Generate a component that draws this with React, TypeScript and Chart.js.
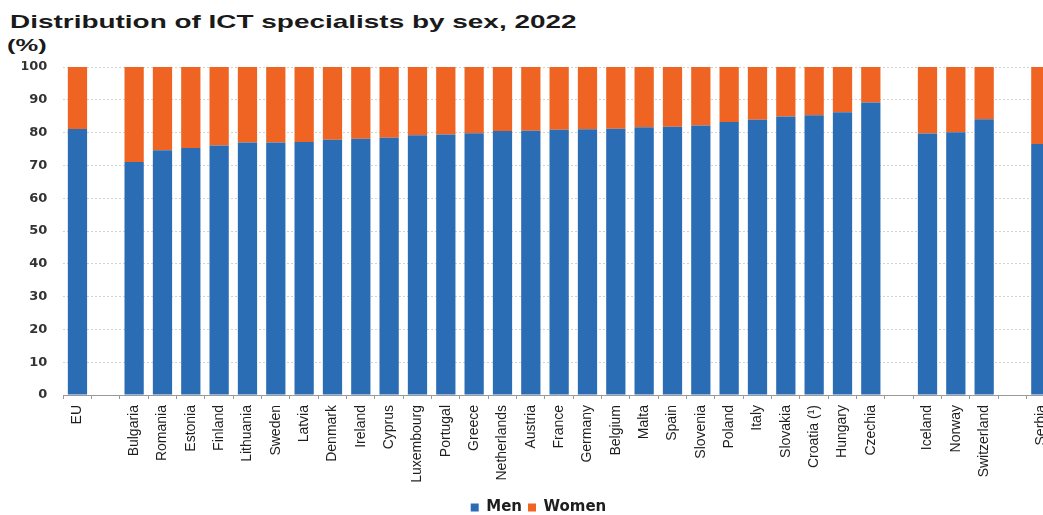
import React, { useEffect, useRef } from "react";
import { Chart, registerables } from "chart.js";

Chart.register(...registerables);

const categories = [
  "EU", "",
  "Bulgaria", "Romania", "Estonia", "Finland", "Lithuania", "Sweden", "Latvia",
  "Denmark", "Ireland", "Cyprus", "Luxembourg", "Portugal", "Greece", "Netherlands",
  "Austria", "France", "Germany", "Belgium", "Malta", "Spain", "Slovenia", "Poland",
  "Italy", "Slovakia", "Croatia (¹)", "Hungary", "Czechia", "",
  "Iceland", "Norway", "Switzerland", "",
  "Serbia",
];

const menValues = [
  81.1, null,
  71.0, 74.6, 75.3, 76.1, 77.0, 77.0, 77.1,
  77.8, 78.1, 78.4, 79.2, 79.4, 79.8, 80.5,
  80.6, 80.9, 81.0, 81.2, 81.6, 81.8, 82.2, 83.2,
  83.9, 84.9, 85.3, 86.2, 89.2, null,
  79.7, 80.1, 84.1, null,
  76.5,
];

const womenValues = [
  18.9, null,
  29.0, 25.4, 24.7, 23.9, 23.0, 23.0, 22.9,
  22.2, 21.9, 21.6, 20.8, 20.6, 20.2, 19.5,
  19.4, 19.1, 19.0, 18.8, 18.4, 18.2, 17.8, 16.8,
  16.1, 15.1, 14.7, 13.8, 10.8, null,
  20.3, 19.9, 15.9, null,
  23.5,
];

const seriesNames = ["Men", "Women"];
const yTicksStep = 10;

const BLUE = "#2B6DB4";
const ORANGE = "#EF6423";

export default function App() {
  const canvasRef = useRef<HTMLCanvasElement | null>(null);

  useEffect(() => {
    const canvas = canvasRef.current;
    if (!canvas) return;
    const chart = new Chart(canvas, {
      type: "bar",
      data: {
        labels: categories,
        datasets: [
          {
            label: seriesNames[0],
            data: menValues,
            backgroundColor: BLUE,
            barPercentage: 0.68,
            categoryPercentage: 1,
          },
          {
            label: seriesNames[1],
            data: womenValues,
            backgroundColor: ORANGE,
            barPercentage: 0.68,
            categoryPercentage: 1,
          },
        ],
      },
      options: {
        responsive: false,
        animation: false,
        layout: { padding: { left: 22, right: 23, top: 67, bottom: 0 } },
        plugins: {
          legend: {
            position: "bottom",
            labels: {
              boxWidth: 8,
              boxHeight: 8,
              padding: 6,
              color: "#1e1e1e",
              font: { family: "'DejaVu Sans', sans-serif", size: 15, weight: "bold" },
            },
          },
          tooltip: { enabled: false },
          title: { display: false },
        },
        scales: {
          x: {
            stacked: true,
            grid: {
              display: true,
              drawOnChartArea: false,
              drawTicks: true,
              tickLength: 4,
              color: "#9a9a9a",
              offset: true,
            },
            border: { display: true, color: "#9a9a9a" },
            ticks: {
              autoSkip: false,
              minRotation: 90,
              maxRotation: 90,
              padding: 6,
              color: "#1e1e1e",
              font: { family: "'Liberation Sans', Arial, sans-serif", size: 14 },
            },
            afterFit: (s: any) => {
              s.height = 99;
            },
          },
          y: {
            stacked: true,
            min: 0,
            max: 100,
            ticks: {
              stepSize: yTicksStep,
              padding: 16,
              color: "#333333",
              font: { family: "'DejaVu Sans', sans-serif", size: 13, weight: "bold" },
            },
            grid: { drawTicks: false, color: "#d2d2d2", lineWidth: 1 },
            border: { display: false, dash: [2, 2] },
            afterFit: (s: any) => {
              s.width = 41.3;
            },
          },
        },
      },
    });
    return () => chart.destroy();
  }, []);

  return (
    <div
      style={{
        position: "fixed",
        left: 0,
        top: 0,
        width: 1043,
        height: 515,
        overflow: "hidden",
        background: "#ffffff",
      }}
    >
      <div
        style={{
          position: "absolute",
          left: 10,
          top: 12,
          fontFamily: "'Liberation Sans', Arial, sans-serif",
          fontWeight: "bold",
          fontSize: 19,
          lineHeight: "19px",
          color: "#1a1a1a",
          whiteSpace: "nowrap",
          transform: "scaleX(1.47)",
          transformOrigin: "left top",
        }}
      >
        Distribution of ICT specialists by sex, 2022
      </div>
      <div
        style={{
          position: "absolute",
          left: 7,
          top: 37,
          fontFamily: "'Liberation Sans', Arial, sans-serif",
          fontWeight: "bold",
          fontSize: 17,
          lineHeight: "17px",
          color: "#1a1a1a",
          whiteSpace: "nowrap",
          transform: "scaleX(1.5)",
          transformOrigin: "left top",
        }}
      >
        (%)
      </div>
      <canvas
        ref={canvasRef}
        width={1078}
        height={525}
        style={{ position: "absolute", left: 0, top: 0, width: 1078, height: 525 }}
      />
    </div>
  );
}
